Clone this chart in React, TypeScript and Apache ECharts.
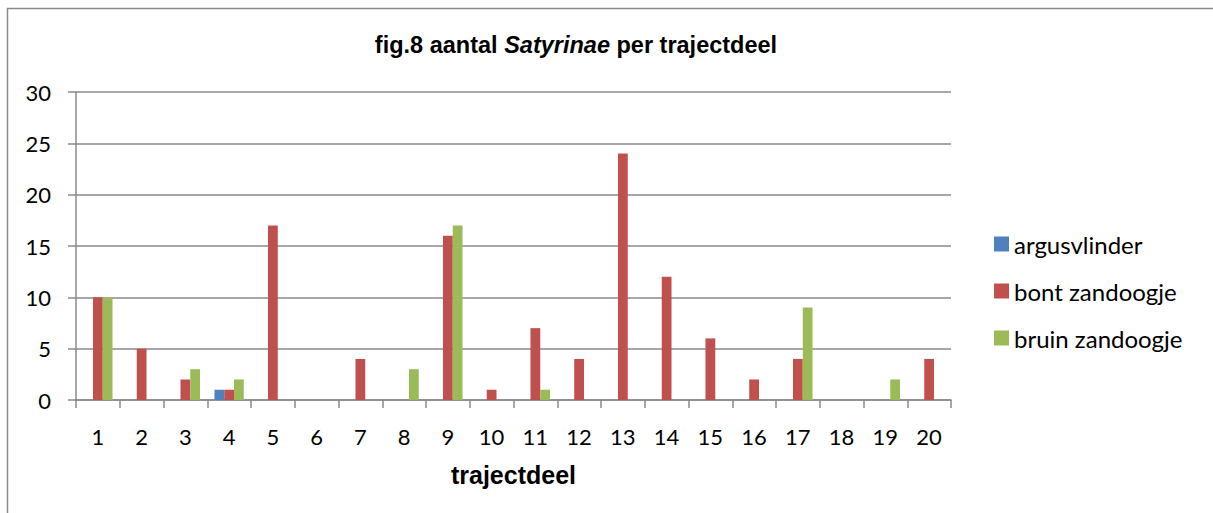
import React, { useEffect, useRef } from "react";
import * as echarts from "echarts";

const categories = ["1","2","3","4","5","6","7","8","9","10","11","12","13","14","15","16","17","18","19","20"];
const argusvlinder = [0,0,0,1,0,0,0,0,0,0,0,0,0,0,0,0,0,0,0,0];
const bontZandoogje = [10,5,2,1,17,0,4,0,16,1,7,4,24,12,6,2,4,0,0,4];
const bruinZandoogje = [10,0,3,2,0,0,0,3,17,0,1,0,0,0,0,0,9,0,2,0];
const seriesNames = ["argusvlinder", "bont zandoogje", "bruin zandoogje"];
const seriesColors = ["#4F81BD", "#C0504D", "#9BBB59"];

const labelFont = "Lato, 'Open Sans', sans-serif";
const titleFont = "'Liberation Sans', Arial, sans-serif";
const gridColor = "#8a8a8a";

export default function App() {
  const ref = useRef<HTMLDivElement>(null);
  useEffect(() => {
    if (!ref.current) return;
    const chart = echarts.init(ref.current, null, { renderer: "svg" });
    const data = [argusvlinder, bontZandoogje, bruinZandoogje];
    chart.setOption({
      animation: false,
      backgroundColor: "#ffffff",
      title: {
        text: "{b|fig.8 aantal }{i|Satyrinae}{b| per trajectdeel}",
        left: 571,
        top: 28,
        textAlign: "center",
        textStyle: {
          rich: {
            b: { fontFamily: titleFont, fontWeight: "bold", fontSize: 23.5, color: "#000" },
            i: { fontFamily: titleFont, fontWeight: "bold", fontStyle: "italic", fontSize: 23.5, color: "#000" },
          },
        },
      },
      graphic: [
        {
          type: "rect",
          shape: { x: 7.5, y: 8.5, width: 1400, height: 800 },
          style: { fill: "none", stroke: gridColor, lineWidth: 1.5 },
          silent: true,
        },
      ],
      legend: {
        orient: "vertical",
        left: 989,
        top: 227,
        itemWidth: 15,
        itemHeight: 15,
        itemGap: 23,
        icon: "rect",
        data: seriesNames,
        textStyle: { fontFamily: labelFont, fontSize: 24, color: "#000", padding: [0, 0, 0, 0] },
      },
      grid: { left: 76, right: 262, top: 92, bottom: 113, containLabel: false },
      xAxis: {
        type: "category",
        data: categories,
        name: "trajectdeel",
        nameLocation: "middle",
        nameGap: 62,
        nameTextStyle: { fontFamily: titleFont, fontWeight: "bold", fontSize: 25, color: "#000" },
        axisLine: { lineStyle: { color: gridColor, width: 1.5 } },
        axisTick: { show: true, length: 8, alignWithLabel: false, lineStyle: { color: gridColor, width: 1.5 } },
        axisLabel: { fontFamily: labelFont, fontSize: 22, color: "#000", margin: 25 },
      },
      yAxis: {
        type: "value",
        min: 0,
        max: 30,
        interval: 5,
        axisLine: { show: true, lineStyle: { color: gridColor, width: 1.5 } },
        axisTick: { show: true, length: 8, lineStyle: { color: gridColor, width: 1.5 } },
        splitLine: { lineStyle: { color: gridColor, width: 1.5 } },
        axisLabel: { fontFamily: labelFont, fontSize: 22, color: "#000", margin: 25 },
      },
      series: seriesNames.map((name, i) => ({
        name,
        type: "bar",
        data: data[i],
        barGap: "0%",
        barCategoryGap: "33%",
        itemStyle: { color: seriesColors[i] },
      })),
    });
    return () => chart.dispose();
  }, []);
  return (
    <div
      ref={ref}
      style={{ position: "fixed", left: 0, top: 0, width: 1213, height: 513 }}
    />
  );
}
